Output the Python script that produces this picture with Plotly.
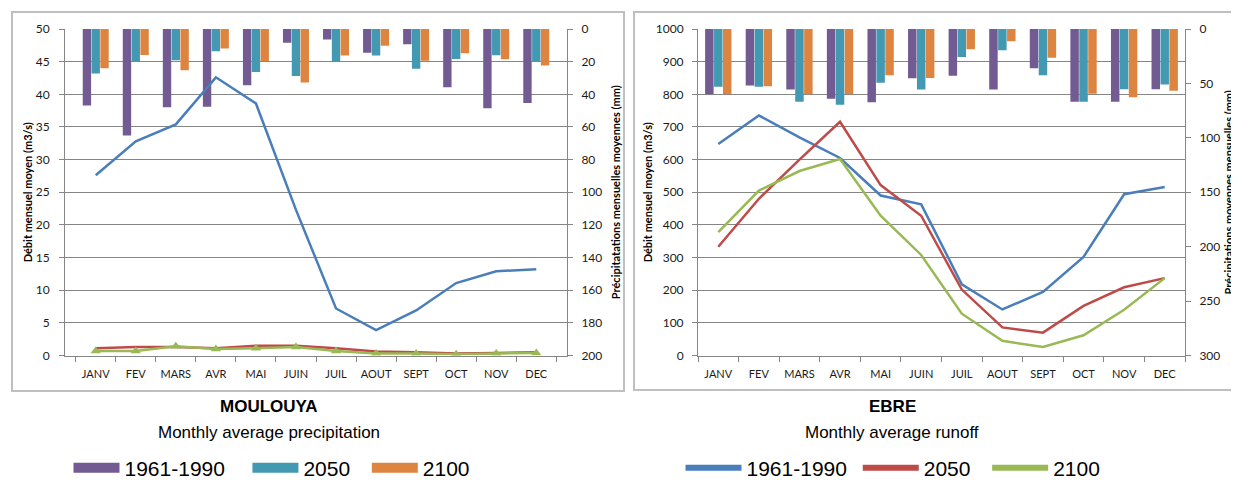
import plotly.graph_objects as go

months = ["JANV", "FEV", "MARS", "AVR", "MAI", "JUIN", "JUIL", "AOUT", "SEPT", "OCT", "NOV", "DEC"]
series_names = ["1961-1990", "2050", "2100"]

# MOULOUYA - monthly precipitation (mm)
mou_p_1961 = [46.8, 65.2, 48.0, 47.6, 34.4, 8.4, 6.5, 14.5, 9.4, 35.7, 48.6, 45.3]
mou_p_2050 = [27.2, 20.0, 19.2, 13.6, 26.4, 28.8, 20.0, 16.3, 24.3, 18.4, 16.1, 20.0]
mou_p_2100 = [24.0, 16.0, 25.2, 12.0, 19.6, 32.8, 16.3, 10.2, 19.4, 14.9, 18.6, 22.4]
# MOULOUYA - monthly runoff (m3/s)
mou_q_1961 = [27.6, 32.8, 35.4, 42.6, 38.6, 22.3, 7.2, 3.9, 6.9, 11.1, 12.9, 13.2]
mou_q_2050 = [1.1, 1.3, 1.3, 1.1, 1.5, 1.5, 1.1, 0.6, 0.5, 0.3, 0.4, 0.5]
mou_q_2100 = [0.7, 0.7, 1.4, 1.0, 1.1, 1.3, 0.7, 0.3, 0.3, 0.2, 0.3, 0.4]

# EBRE - monthly precipitation (mm)
ebre_p_1961 = [60.0, 51.9, 55.5, 64.2, 67.2, 45.3, 42.9, 55.6, 36.0, 66.8, 66.8, 55.3]
ebre_p_2050 = [53.1, 53.1, 66.9, 69.6, 49.5, 55.5, 25.8, 19.6, 42.5, 66.8, 55.3, 50.9]
ebre_p_2100 = [60.0, 52.5, 60.0, 60.0, 42.6, 45.0, 18.6, 11.2, 26.4, 59.6, 62.7, 56.8]
# EBRE - monthly runoff (m3/s)
ebre_q_1961 = [648, 735, 668, 605, 490, 463, 218, 141, 195, 302, 494, 516]
ebre_q_2050 = [333, 480, 600, 716, 522, 428, 202, 86, 70, 152, 209, 237]
ebre_q_2100 = [378, 505, 565, 602, 428, 308, 128, 45, 26, 62, 140, 237]

bar_colors = ["#725A92", "#4399B1", "#DD8540"]
line_colors = ["#4A7EBB", "#BE4B48", "#98B954"]

# page body has an 8px margin: size the figure so it fills the 1239x480 window exactly
OFF = 8
W, H = 1239 - OFF, 480 - OFF


def px(x):
    return (x - OFF) / W


def py(y):
    return 1 - (y - OFF) / H


TICKF = "Lato, Calibri, 'Open Sans', sans-serif"
TXTF = "'Liberation Sans', Arial, sans-serif"
GRID = "#868686"
NB = "\u00a0"

# legend labels (trailing spaces only widen the gaps between legend items)
left_legend_labels = ["1961-1990" + NB * 3, "2050" + NB * 2, "2100"]
right_legend_labels = ["1961-1990" + NB, "2050" + NB * 2, "2100"]

fig = go.Figure()

# ---- MOULOUYA ----
for name, vals, c in zip(series_names, [mou_p_1961, mou_p_2050, mou_p_2100], bar_colors):
    fig.add_trace(go.Bar(x=months, y=vals, name=name, marker=dict(color=c, line=dict(width=0)),
                         xaxis="x", yaxis="y", showlegend=False))
for name, vals, c in zip(series_names, [mou_q_1961, mou_q_2050, mou_q_2100], line_colors):
    if name == "2100":
        kw = dict(mode="lines+markers", marker=dict(symbol="triangle-up", size=9, color=c))
    else:
        kw = dict(mode="lines")
    fig.add_trace(go.Scatter(x=months, y=vals, name=name, line=dict(color=c, width=2.5),
                             xaxis="x", yaxis="y2", showlegend=False, **kw))

# ---- EBRE ----
for name, vals, c in zip(series_names, [ebre_p_1961, ebre_p_2050, ebre_p_2100], bar_colors):
    fig.add_trace(go.Bar(x=months, y=vals, name=name, marker=dict(color=c, line=dict(width=0)),
                         xaxis="x2", yaxis="y3", showlegend=False))
for name, vals, c in zip(series_names, [ebre_q_1961, ebre_q_2050, ebre_q_2100], line_colors):
    fig.add_trace(go.Scatter(x=months, y=vals, name=name, mode="lines", line=dict(color=c, width=2.5),
                             xaxis="x2", yaxis="y4", showlegend=False))

# legend entries
for name, c in zip(left_legend_labels, bar_colors):
    fig.add_trace(go.Scatter(x=[None], y=[None], name=name, mode="lines",
                             line=dict(color=c, width=14), xaxis="x", yaxis="y2",
                             legend="legend", hoverinfo="skip"))
for name, c in zip(right_legend_labels, line_colors):
    fig.add_trace(go.Scatter(x=[None], y=[None], name=name, mode="lines",
                             line=dict(color=c, width=6), xaxis="x2", yaxis="y4",
                             legend="legend2", hoverinfo="skip"))

ydom = [py(355.5), py(29)]

common_x = dict(type="category", categoryorder="array", categoryarray=months,
                tickson="boundaries", ticks="outside", ticklen=5, tickcolor=GRID,
                showline=True, linecolor=GRID, linewidth=1, showgrid=False, tickangle=0,
                automargin=False,
                tickfont=dict(family=TICKF, size=11, color="#1a1a1a"), ticklabelstandoff=8)
common_y = dict(ticks="outside", ticklen=5, tickcolor=GRID, showline=True, linecolor=GRID,
                linewidth=1, zeroline=False, automargin=False,
                tickfont=dict(family=TICKF, size=12, color="#1a1a1a"))
title_font = dict(family=TICKF, size=11, color="black")

fig.update_layout(
    width=W, height=H,
    margin=dict(l=0, r=0, t=0, b=0, autoexpand=False),
    paper_bgcolor="white", plot_bgcolor="white",
    barmode="group", bargap=0.34, bargroupgap=0.05,
    xaxis=dict(domain=[px(65), px(567)], anchor="y", **common_x),
    yaxis=dict(domain=ydom, anchor="x", side="right", range=[200, 0], dtick=20, showgrid=False,
               ticklabelstandoff=6,
               title=dict(text="<b>Précipitatations mensuelles moyennes (mm)</b>", font=title_font, standoff=10),
               **common_y),
    yaxis2=dict(overlaying="y", anchor="x", side="left", range=[0, 50], dtick=5, showgrid=True,
                gridcolor=GRID, gridwidth=1, ticklabelstandoff=7,
                title=dict(text="<b>Débit mensuel moyen (m3/s)</b>", font=title_font, standoff=0),
                **common_y),
    xaxis2=dict(domain=[px(698), px(1185)], anchor="y3", **common_x),
    yaxis3=dict(domain=ydom, anchor="x2", side="right", range=[300, 0], dtick=50, showgrid=False,
                ticklabelstandoff=6,
                title=dict(text="<b>Précipitations moyennes mensuelles (mm)</b>", font=title_font, standoff=5),
                **common_y),
    yaxis4=dict(overlaying="y3", anchor="x2", side="left", range=[0, 1000], dtick=100, showgrid=True,
                gridcolor=GRID, gridwidth=1, ticklabelstandoff=6,
                title=dict(text="<b>Débit mensuel moyen (m3/s)</b>", font=title_font, standoff=0),
                **common_y),
    legend=dict(orientation="h", x=px(272), xanchor="center", y=py(468), yanchor="middle",
                font=dict(family=TXTF, size=21, color="black"), itemwidth=46,
                bgcolor="rgba(0,0,0,0)", traceorder="normal"),
    legend2=dict(orientation="h", x=px(893), xanchor="center", y=py(468), yanchor="middle",
                 font=dict(family=TXTF, size=21, color="black"), itemwidth=56,
                 bgcolor="rgba(0,0,0,0)", traceorder="normal"),
    shapes=[
        dict(type="rect", xref="paper", yref="paper", x0=px(12), x1=px(624), y0=py(391), y1=py(12),
             line=dict(color="#BFBFBF", width=2), layer="below"),
        dict(type="rect", xref="paper", yref="paper", x0=px(634), x1=1.01, y0=py(390), y1=py(12),
             line=dict(color="#BFBFBF", width=2), layer="below"),
    ],
    annotations=[
        dict(text="<b>MOULOUYA</b>", x=px(269), y=py(406), xref="paper", yref="paper",
             xanchor="center", yanchor="middle",
             showarrow=False, font=dict(family=TXTF, size=17, color="black")),
        dict(text="Monthly average precipitation", x=px(269), y=py(432), xref="paper", yref="paper",
             xanchor="center", yanchor="middle",
             showarrow=False, font=dict(family=TXTF, size=17, color="black")),
        dict(text="<b>EBRE</b>", x=px(892), y=py(406), xref="paper", yref="paper",
             xanchor="center", yanchor="middle",
             showarrow=False, font=dict(family=TXTF, size=17, color="black")),
        dict(text="Monthly average runoff", x=px(892), y=py(432), xref="paper", yref="paper",
             xanchor="center", yanchor="middle",
             showarrow=False, font=dict(family=TXTF, size=17, color="black")),
    ],
)

fig.write_html("out.html")
